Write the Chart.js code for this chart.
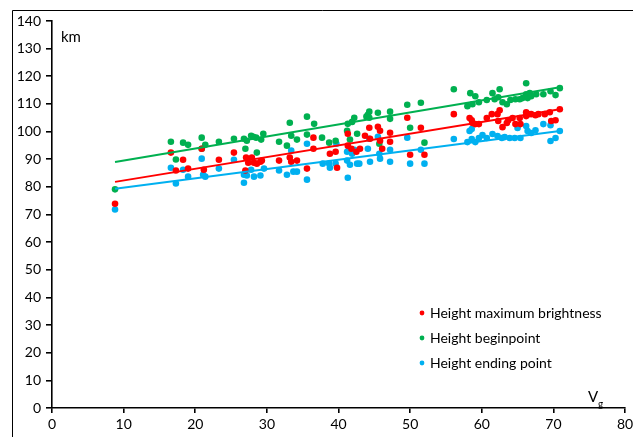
<!DOCTYPE html>
<html>
<head>
<meta charset="utf-8">
<script src="https://cdn.jsdelivr.net/npm/chart.js@4"></script>
<style>
  html, body { margin: 0; padding: 0; background: #fff; }
  #wrap { width: 633px; height: 437px; }
</style>
</head>
<body>
<div id="wrap"><canvas id="c" width="633" height="437"></canvas></div>
<script>
// meteor heights (km) against geocentric velocity Vg
const brightPts = [[8.8,73.9],[16.6,92.4],[17.3,85.9],[18.3,89.8],[19.0,86.6],[20.9,93.8],[21.2,86.2],[23.3,89.8],
  [25.4,92.4],[27.0,85.9],[27.1,90.6],[27.4,88.7],[27.9,90.6],[28.2,88.7],[28.6,88.4],[29.1,89.1],[29.3,89.5],
  [31.7,89.5],[33.2,90.6],[33.4,89.1],[34.2,89.5],[35.6,86.6],[36.5,97.8],[36.5,93.8],[38.8,92.0],[39.6,92.7],
  [39.8,86.9],[41.3,99.2],[41.3,94.9],[41.8,93.8],[42.5,92.7],[43.0,93.8],[43.7,98.5],[44.3,101.4],[44.4,97.4],
  [45.5,101.7],[45.8,100.3],[45.8,96.7],[46.1,93.8],[47.2,99.6],[47.2,96.3],[49.6,105.0],[50.0,91.6],[51.5,101.4],
  [52.0,91.6],[56.1,106.3],[58.3,104.9],[58.6,104.1],[58.7,103.1],[59.1,102.7],[59.6,102.7],[60.7,104.9],
  [61.4,106.3],[62.2,106.3],[62.5,107.7],[62.3,103.8],[62.9,101.6],[63.5,103.1],[63.7,104.1],[64.3,104.9],
  [64.7,102.7],[65.4,102.7],[65.3,104.9],[66.2,107.0],[66.2,105.6],[66.5,106.3],[66.9,106.3],[67.5,105.9],
  [67.9,106.3],[68.8,106.3],[69.5,107.0],[69.7,103.8],[70.3,104.1],[70.9,108.1]];

const beginPts = [[8.8,79.1],[16.6,96.3],[17.3,89.9],[18.3,96.0],[19.0,95.2],[20.9,97.8],[20.9,93.8],[21.4,95.2],
  [23.3,96.3],[25.4,97.4],[26.8,97.4],[27.0,93.8],[27.2,96.7],[27.8,98.5],[28.1,98.1],[28.5,97.8],[28.6,92.4],
  [29.2,97.1],[29.5,99.2],[31.7,96.3],[32.8,94.9],[33.2,103.2],[33.4,98.5],[34.2,97.1],[35.6,105.4],[35.6,98.9],
  [36.6,102.8],[37.7,97.8],[38.7,96.0],[39.6,96.7],[41.2,100.3],[41.3,102.8],[41.6,97.1],[41.9,103.5],[42.2,105.0],
  [42.6,99.2],[43.9,105.4],[44.1,106.1],[44.3,107.2],[44.3,105.0],[45.5,106.8],[45.7,95.6],[47.2,107.2],[47.2,104.6],
  [49.6,109.7],[50.0,101.4],[51.5,110.4],[52.0,96.0],[56.1,115.3],[58.0,109.2],[58.4,113.9],[58.7,109.9],
  [59.1,112.8],[59.6,110.6],[60.7,111.4],[61.5,113.9],[61.8,111.7],[62.3,112.4],[62.5,115.3],[62.9,110.6],
  [63.5,109.9],[64.0,111.4],[64.7,111.7],[65.3,111.7],[65.7,112.1],[66.2,117.5],[66.2,113.5],[66.4,112.1],
  [66.7,113.9],[66.9,112.8],[67.6,113.5],[68.6,113.5],[69.6,114.6],[70.3,113.2],[70.9,115.7]];

const endPts = [[8.8,71.8],[16.6,86.9],[17.3,81.2],[18.3,86.2],[19.0,83.7],[20.9,90.2],[21.1,84.4],[21.4,83.7],
  [23.3,86.6],[25.4,89.8],[26.8,84.4],[27.2,84.1],[26.8,81.5],[27.8,86.2],[28.2,83.7],[29.1,84.1],[29.6,86.6],
  [31.7,85.9],[32.8,84.4],[33.4,93.1],[33.7,85.5],[34.2,85.5],[35.6,95.6],[35.6,82.6],[37.8,88.4],[38.7,88.4],
  [39.6,88.4],[38.8,86.9],[39.7,95.6],[41.2,92.7],[41.5,93.8],[41.9,92.0],[42.2,93.4],[41.2,89.5],[41.6,88.0],
  [42.6,88.4],[42.9,88.4],[41.3,83.3],[44.3,97.4],[44.1,93.8],[44.4,89.1],[45.5,98.1],[45.7,92.0],[45.8,90.2],
  [47.2,93.4],[47.2,89.1],[50.0,88.4],[49.6,97.8],[51.5,93.4],[52.0,88.4],[56.1,97.3],[58.0,96.2],[58.6,97.3],
  [58.3,100.2],[58.6,100.9],[59.1,96.2],[59.6,97.7],[60.1,98.7],[60.7,97.7],[61.5,99.1],[62.2,98.4],[62.8,97.7],
  [63.2,98.0],[63.9,97.7],[64.6,97.7],[65.4,97.7],[65.0,101.3],[66.2,102.0],[66.4,100.2],[66.9,99.5],[67.5,100.5],
  [68.6,102.7],[69.6,102.3],[69.6,96.6],[70.3,97.7],[70.9,100.2]];

// linear trend lines: end points
const trendV = [8.8, 70.9];
const brightTrend = [81.8, 108.1];
const beginTrend = [89.0, 116.0];
const endTrend = [79.3, 100.2];

const seriesNames = ['Height maximum brightness', 'Height beginpoint', 'Height ending point'];
const RED = '#ff0000', GREEN = '#00b050', BLUE = '#00b0f0';
const FONT = 'Lato, "Open Sans", sans-serif';

const toXY = pts => pts.map(p => ({ x: p[0], y: p[1] }));
const trendXY = ys => trendV.map((v, i) => ({ x: v, y: ys[i] }));

function pointSet(label, pts, color) {
  return { label, data: toXY(pts), backgroundColor: color, borderWidth: 0,
    pointRadius: 3.3, pointHoverRadius: 3.3, order: 2 };
}
function trendSet(ys, color) {
  return { label: '', data: trendXY(ys), showLine: true, borderColor: color, borderWidth: 2,
    pointRadius: 0, fill: false, order: 1 };
}

// frame, axis captions and the in-plot legend
const extras = {
  id: 'extras',
  beforeDraw(chart) {
    const ctx = chart.ctx;
    ctx.save();
    ctx.fillStyle = '#fff';
    ctx.fillRect(0, 0, chart.width, chart.height);
    ctx.strokeStyle = '#000';
    ctx.lineWidth = 1;
    ctx.beginPath();
    ctx.moveTo(12.5, chart.height);
    ctx.lineTo(12.5, 10.5);
    ctx.lineTo(chart.width, 10.5);
    ctx.stroke();
    ctx.restore();
  },
  afterDraw(chart) {
    const ctx = chart.ctx;
    ctx.save();
    ctx.fillStyle = '#000';
    ctx.textBaseline = 'alphabetic';
    ctx.font = '15px ' + FONT;
    ctx.fillText('km', 61, 42);
    ctx.fillText('V', 588, 402);
    ctx.font = '10px ' + FONT;
    ctx.fillText('g', 598, 407);

    const colors = [RED, GREEN, BLUE];
    ctx.font = '14px ' + FONT;
    ctx.textBaseline = 'middle';
    seriesNames.forEach((name, i) => {
      const y = 313 + i * 25;
      ctx.fillStyle = colors[i];
      ctx.beginPath();
      ctx.arc(422, y, 2.4, 0, Math.PI * 2);
      ctx.fill();
      ctx.fillStyle = '#000';
      ctx.fillText(name, 430, y);
    });
    ctx.restore();
  }
};

const noPad = s => { s.paddingLeft = 0; s.paddingRight = 0; s.paddingTop = 0; s.paddingBottom = 0; };

new Chart(document.getElementById('c').getContext('2d'), {
  type: 'scatter',
  data: {
    datasets: [
      pointSet(seriesNames[0], brightPts, RED),
      pointSet(seriesNames[1], beginPts, GREEN),
      pointSet(seriesNames[2], endPts, BLUE),
      trendSet(brightTrend, RED),
      trendSet(beginTrend, GREEN),
      trendSet(endTrend, BLUE)
    ]
  },
  options: {
    responsive: false,
    animation: false,
    events: [],
    layout: { padding: { left: 0, right: 8, top: 21, bottom: 0 } },
    plugins: { legend: { display: false }, tooltip: { enabled: false } },
    scales: {
      x: {
        type: 'linear', min: 0, max: 80,
        border: { color: '#000', width: 1.6 },
        grid: { drawOnChartArea: false, drawTicks: true, tickLength: 5, color: '#000', lineWidth: 1.6 },
        ticks: { stepSize: 10, padding: 3, color: '#000', font: { family: FONT, size: 14 }, maxRotation: 0 },
        afterFit(s) { s.height = 29; noPad(s); }
      },
      y: {
        type: 'linear', min: 0, max: 140,
        border: { color: '#000', width: 1.6 },
        grid: { drawOnChartArea: false, drawTicks: true, tickLength: 6, color: '#000', lineWidth: 1.6 },
        ticks: { stepSize: 10, padding: 5, color: '#000', font: { family: FONT, size: 14 } },
        afterFit(s) { s.width = 52; noPad(s); }
      }
    }
  },
  plugins: [extras]
});
</script>
</body>
</html>
